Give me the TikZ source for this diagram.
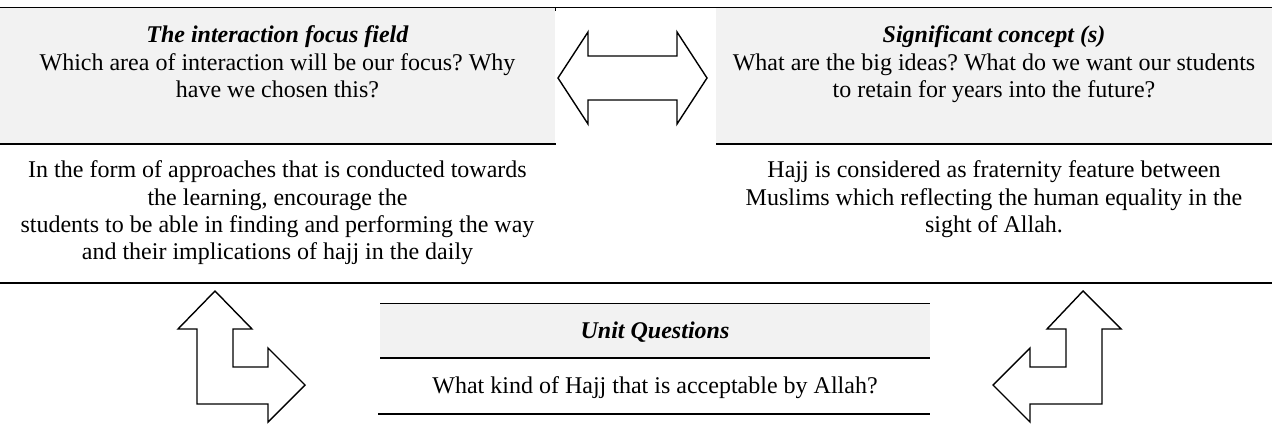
\documentclass[tikz,border=0pt]{standalone}
\usepackage{fontspec}
\setmainfont{Liberation Serif}
\usepackage{tikz}
\frenchspacing
\definecolor{boxgray}{HTML}{F2F2F2}
\tikzset{
  txt/.style={align=center,inner sep=0pt,anchor=north,font=\fontsize{12}{13.6}\selectfont},
  thickrule/.style={line width=0.9pt},
  thinrule/.style={line width=0.5pt},
  blockarrow/.style={draw,line width=0.7pt,fill=white,line join=miter}
}

\begin{document}
\begin{tikzpicture}[x=0.5pt,y=-0.5pt]
    \useasboundingbox (0,0) rectangle (1272,424);

    % top rule
    \draw[thinrule] (0,7) -- (1272,7);
    \draw[thinrule] (555,7) -- (555,11);
    \draw[thinrule] (716,7) -- (716,11);

    % interaction focus field
    \fill[boxgray] (0,8) rectangle (555,143);
    \draw[thickrule] (0,144) -- (556,144);
    \node[txt] (focus) at (277.5,25.5) {\textbf{\textit{The interaction focus field}}\\Which area of interaction will be our focus? Why\\have we chosen this?};
    \node[txt] (focusans) at (277.5,160.5) {In the form of approaches that is conducted towards\\the learning, encourage the\\students to be able in finding and performing the way\\and their implications of hajj in the daily};

    % significant concept
    \fill[boxgray] (716,8) rectangle (1272,143);
    \draw[thickrule] (716,144) -- (1272,144);
    \node[txt] (concept) at (994,25.5) {\textbf{\textit{Significant concept (s)}}\\What are the big ideas? What do we want our students\\to retain for years into the future?};
    \node[txt] (conceptans) at (994,160.5) {Hajj is considered as fraternity feature between\\Muslims which reflecting the human equality in the\\sight of Allah.};

    % double arrow
    \draw[blockarrow] (558,78) -- (588,32) -- (588,56) -- (677,56) -- (677,32) -- (707,78)
        -- (677,124) -- (677,100) -- (588,100) -- (588,124) -- cycle;

    % middle rule
    \draw[thickrule] (0,283) -- (1272,283);

    % unit questions
    \fill[boxgray] (380,303) rectangle (930,357);
    \draw[thinrule] (380,303) -- (930,303);
    \draw[thickrule] (380,358) -- (930,358);
    \draw[thickrule] (378,414) -- (930,414);
    \node[txt] (unitq) at (655,321) {\textbf{\textit{Unit Questions}}};
    \node[txt] (unitans) at (655,376) {What kind of Hajj that is acceptable by Allah?};

    % bent arrows
    \draw[blockarrow] (215,291) -- (252,329) -- (233,329) -- (233,367) -- (268,367) -- (268,348)
        -- (305,385) -- (268,422) -- (268,404) -- (197,404) -- (197,329) -- (178,329) -- cycle;
    \draw[blockarrow] (1083,291) -- (1121,329) -- (1102,329) -- (1102,404) -- (1030,404) -- (1030,422)
        -- (993,385) -- (1030,348) -- (1030,367) -- (1066,367) -- (1066,329) -- (1047,329) -- cycle;
\end{tikzpicture}
\end{document}
